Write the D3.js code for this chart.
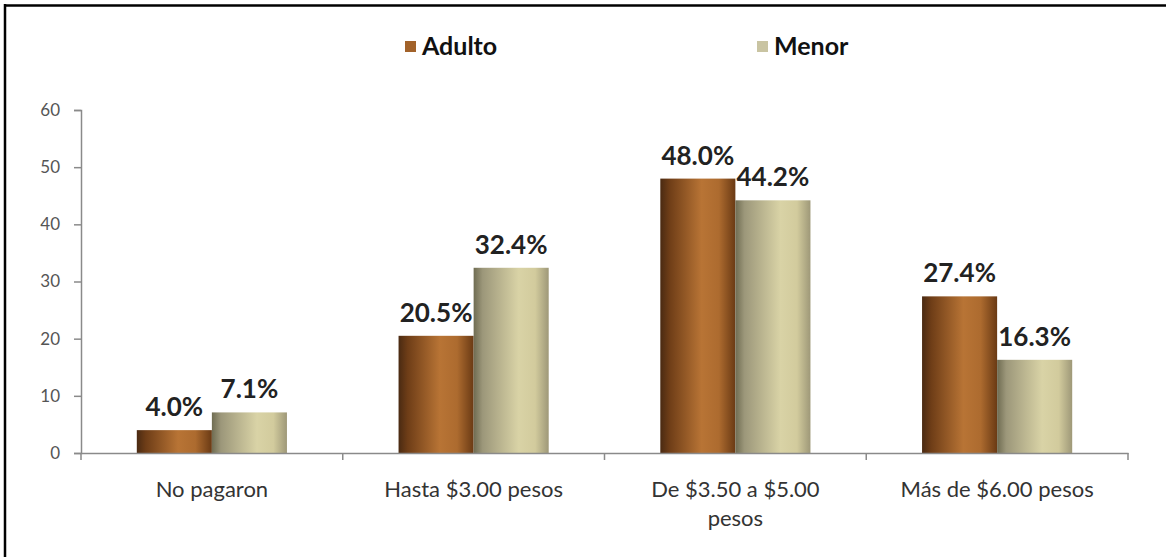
<!DOCTYPE html>
<html><head><meta charset="utf-8">
<script src="https://cdn.jsdelivr.net/npm/d3@7"></script>
<style>body{margin:0;background:#fff;} svg{display:block;}</style>
</head><body>
<svg id="c" width="1166" height="557"></svg>
<script>
const categories = ["No pagaron", "Hasta $3.00 pesos", "De $3.50 a $5.00 pesos", "Más de $6.00 pesos"];
const seriesNames = ["Adulto", "Menor"];
const adulto = [4.0, 20.5, 48.0, 27.4];
const menor = [7.1, 32.4, 44.2, 16.3];
const yTicks = [0, 10, 20, 30, 40, 50, 60];

const svg = d3.select("#c");
const font = "Lato, 'Open Sans', sans-serif";

// frame
svg.append("line").attr("x1",5).attr("x2",5).attr("y1",4).attr("y2",557).attr("stroke","#000").attr("stroke-width",2.5);
svg.append("line").attr("x1",4).attr("x2",1166).attr("y1",5.5).attr("y2",5.5).attr("stroke","#000").attr("stroke-width",2.5);

const defs = svg.append("defs");
const g1 = defs.append("linearGradient").attr("id","gA").attr("x1","0").attr("x2","1").attr("y1","0").attr("y2","0");
[[0,"#4a2a12"],[0.12,"#6e3d17"],[0.55,"#b87435"],[0.78,"#ad6b2f"],[1,"#6a3a14"]].forEach(([o,c])=>g1.append("stop").attr("offset",o).attr("stop-color",c));
const g2 = defs.append("linearGradient").attr("id","gM").attr("x1","0").attr("x2","1").attr("y1","0").attr("y2","0");
[[0,"#6f6c52"],[0.12,"#9c977a"],[0.6,"#d9d3a6"],[0.82,"#d2cb9d"],[1,"#9e9878"]].forEach(([o,c])=>g2.append("stop").attr("offset",o).attr("stop-color",c));
const fills = ["url(#gA)","url(#gM)"];
const legendFills = ["#a2622a","#c9c4a2"];

const x0 = d3.scaleBand().domain(categories).range([81,1128]).paddingInner(0.4264).paddingOuter(0.2132);
const x1 = d3.scaleBand().domain(seriesNames).range([0, x0.bandwidth()]);
const y = d3.scaleLinear().domain([0,60]).range([453,110]);

// y axis
const yAxis = svg.append("g").attr("transform","translate(81,0)").call(d3.axisLeft(y).tickValues(yTicks).tickSize(7).tickPadding(14).tickFormat(d3.format("d")));
yAxis.select(".domain").attr("stroke","#8a8a8a").attr("stroke-width",1.5);
yAxis.selectAll(".tick line").attr("stroke","#8a8a8a").attr("stroke-width",1.5);
yAxis.selectAll("text").attr("fill","#555").style("font-family",font).style("font-size","17px");

// bars
const data = categories.map((c,i)=>({cat:c, vals:[adulto[i], menor[i]]}));
const groups = svg.selectAll("g.grp").data(data).enter().append("g").attr("class","grp")
  .attr("transform", d=>`translate(${x0(d.cat)},0)`);
groups.selectAll("rect").data(d=>d.vals.map((v,j)=>({v, s:seriesNames[j], j}))).enter().append("rect")
  .attr("x", d=>x1(d.s)).attr("width", x1.bandwidth())
  .attr("y", d=>y(d.v)).attr("height", d=>y(0)-y(d.v))
  .attr("fill", d=>fills[d.j]);
groups.selectAll("text.lbl").data(d=>d.vals.map((v,j)=>({v, s:seriesNames[j], j}))).enter().append("text")
  .attr("class","lbl")
  .attr("x", d=>x1(d.s)+x1.bandwidth()/2).attr("y", d=>y(d.v)-14)
  .attr("text-anchor","middle").attr("fill","#222")
  .style("font-family",font).style("font-weight","bold").style("font-size","26px")
  .text(d=>d3.format(".1f")(d.v)+"%");

// x axis
const xAxis = svg.append("g").attr("transform","translate(0,453)").call(d3.axisBottom(x0).tickSize(0).tickPadding(28));
xAxis.select(".domain").attr("stroke","#8a8a8a").attr("stroke-width",1.5);
xAxis.selectAll("text").attr("fill","#333").style("font-family",font).style("font-size","22px");
// category boundary ticks
const bounds = [81, ...categories.map(c=>x0(c)+x0.bandwidth()/2+x0.step()/2)];
svg.selectAll("line.bt").data(bounds).enter().append("line").attr("class","bt")
  .attr("x1",d=>d).attr("x2",d=>d).attr("y1",453).attr("y2",460).attr("stroke","#8a8a8a").attr("stroke-width",1.5);
// wrap long label
xAxis.selectAll(".tick text").each(function(d){
  if (d === "De $3.50 a $5.00 pesos") {
    const t = d3.select(this); t.text("");
    t.append("tspan").attr("x",0).attr("dy","0.71em").text("De $3.50 a $5.00");
    t.append("tspan").attr("x",0).attr("dy","1.32em").text("pesos");
    t.attr("dy",null);
  }
});

// legend
const legX = [405, 757];
seriesNames.forEach((s,i)=>{
  svg.append("rect").attr("x",legX[i]).attr("y",41).attr("width",11).attr("height",11).attr("fill",legendFills[i]);
  svg.append("text").attr("x",legX[i]+17).attr("y",55).attr("fill","#111")
    .style("font-family",font).style("font-weight","bold").style("font-size","25px").text(s);
});
</script>
</body></html>
